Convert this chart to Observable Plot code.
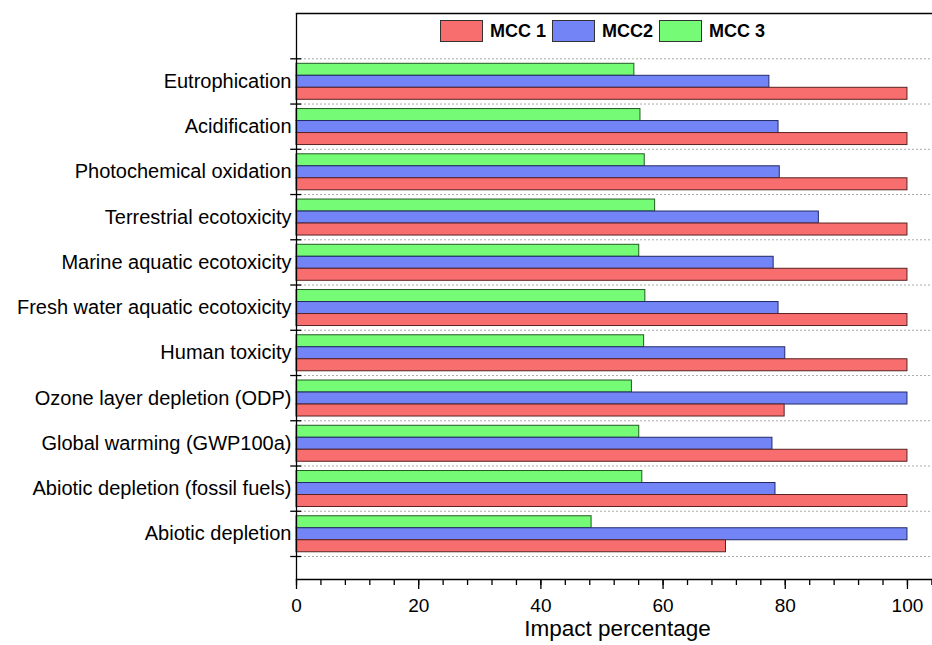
<!DOCTYPE html>
<html>
<head>
<meta charset="utf-8">
<script src="https://cdn.jsdelivr.net/npm/d3@7"></script>
<script src="https://cdn.jsdelivr.net/npm/@observablehq/plot@0.6"></script>
<style>
  body { margin: 0; background: #fff; }
  #wrap { position: relative; width: 932px; height: 645px; overflow: hidden; font-family: "Liberation Sans", Arial, sans-serif; }
  #legend { position: absolute; top: 20px; left: 440px; display: flex; align-items: center; font-weight: bold; font-size: 18px; color: #000; }
  #legend .sw { width: 43px; height: 22px; border: 1px solid #333; box-sizing: border-box; margin-right: 7px; }
  #legend .lb { margin-right: 6px; }
</style>
</head>
<body>
<div id="wrap"><div id="legend"></div></div>
<script>
const categories = [
  "Eutrophication",
  "Acidification",
  "Photochemical oxidation",
  "Terrestrial ecotoxicity",
  "Marine aquatic ecotoxicity",
  "Fresh water aquatic ecotoxicity",
  "Human toxicity",
  "Ozone layer depletion (ODP)",
  "Global warming (GWP100a)",
  "Abiotic depletion (fossil fuels)",
  "Abiotic depletion"
];
const seriesNames = ["MCC 1", "MCC2", "MCC 3"];
const mcc1 = [100, 100, 100, 100, 100, 100, 100, 79.9, 100, 100, 70.3];
const mcc2 = [77.4, 78.9, 79.1, 85.5, 78.1, 78.9, 80.0, 100, 77.9, 78.4, 100];
const mcc3 = [55.3, 56.3, 57.0, 58.7, 56.1, 57.1, 56.9, 54.9, 56.1, 56.6, 48.3];
const xTicks = [0, 20, 40, 60, 80, 100];

const fills = ["#f86e6e", "#7385f6", "#76fb76"];
const strokes = ["#5a2222", "#222a66", "#225a22"];

const rows = (vals) => categories.map((c, i) => ({cat: c, value: vals[i]}));
const d1 = rows(mcc1), d2 = rows(mcc2), d3v = rows(mcc3);

const yTop = 58.3, yBot = 556;
const bw = (yBot - yTop) / categories.length;
const barH = 12, pad = 5;

function insets(k) { // k: 0 top (green), 1 middle (blue), 2 bottom (red)
  const top = pad + k * barH;
  return {insetTop: top, insetBottom: bw - top - barH};
}

const chart = Plot.plot({
  width: 932,
  height: 645,
  marginLeft: 296,
  marginRight: 0,
  marginTop: 13,
  marginBottom: 66,
  style: {fontFamily: "Liberation Sans, Arial, sans-serif", background: "#fff", color: "#000"},
  x: {domain: [0, 104.1], label: null},
  y: {domain: categories, range: [yTop, yBot], padding: 0, round: false, label: null},
  marks: [
    // dotted dividers
    Plot.ruleY(categories, {y: d => d, dy: -bw / 2, stroke: "#aaa", strokeWidth: 1, strokeDasharray: "2,2"}),
    Plot.ruleY([categories[categories.length - 1]], {y: d => d, dy: bw / 2, stroke: "#aaa", strokeWidth: 1, strokeDasharray: "2,2"}),
    // bars
    Plot.barX(d3v, {x: "value", y: "cat", fill: fills[2], stroke: strokes[2], strokeWidth: 1, ...insets(0)}),
    Plot.barX(d2, {x: "value", y: "cat", fill: fills[1], stroke: strokes[1], strokeWidth: 1, ...insets(1)}),
    Plot.barX(d1, {x: "value", y: "cat", fill: fills[0], stroke: strokes[0], strokeWidth: 1, ...insets(2)}),
    // left ticks at band boundaries
    Plot.ruleY(categories, {y: d => d, dy: -bw / 2, x1: -0.95, x2: 0.85, stroke: "#000", strokeWidth: 1.3}),
    Plot.ruleY([categories[categories.length - 1]], {y: d => d, dy: bw / 2, x1: -0.95, x2: 0.85, stroke: "#000", strokeWidth: 1.3}),
    // frame lines
    Plot.frame({anchor: "top", stroke: "#000", strokeWidth: 1.3}),
    Plot.frame({anchor: "bottom", stroke: "#000", strokeWidth: 1.3}),
    Plot.ruleX([0], {stroke: "#000", strokeWidth: 1.3}),
    // axes
    Plot.axisY({tickSize: 0, tickPadding: 5, fontSize: 20, label: null}),
    Plot.axisX({ticks: d3.range(0, 105, 4), tickSize: 6, text: null, label: null, strokeWidth: 1.3}),
    Plot.axisX({ticks: xTicks, tickSize: 10, tickPadding: 9, fontSize: 19, label: null, strokeWidth: 1.3}),
    Plot.text(["Impact percentage"], {frameAnchor: "bottom", dy: 56, dx: 3, fontSize: 22.5, fill: "#000"})
  ]
});

const wrap = document.getElementById("wrap");
wrap.insertBefore(chart, wrap.firstChild);

const legend = document.getElementById("legend");
seriesNames.forEach((name, i) => {
  const sw = document.createElement("div");
  sw.className = "sw";
  sw.style.background = fills[i];
  const lb = document.createElement("span");
  lb.className = "lb";
  lb.textContent = name;
  legend.appendChild(sw);
  legend.appendChild(lb);
});
</script>
</body>
</html>
